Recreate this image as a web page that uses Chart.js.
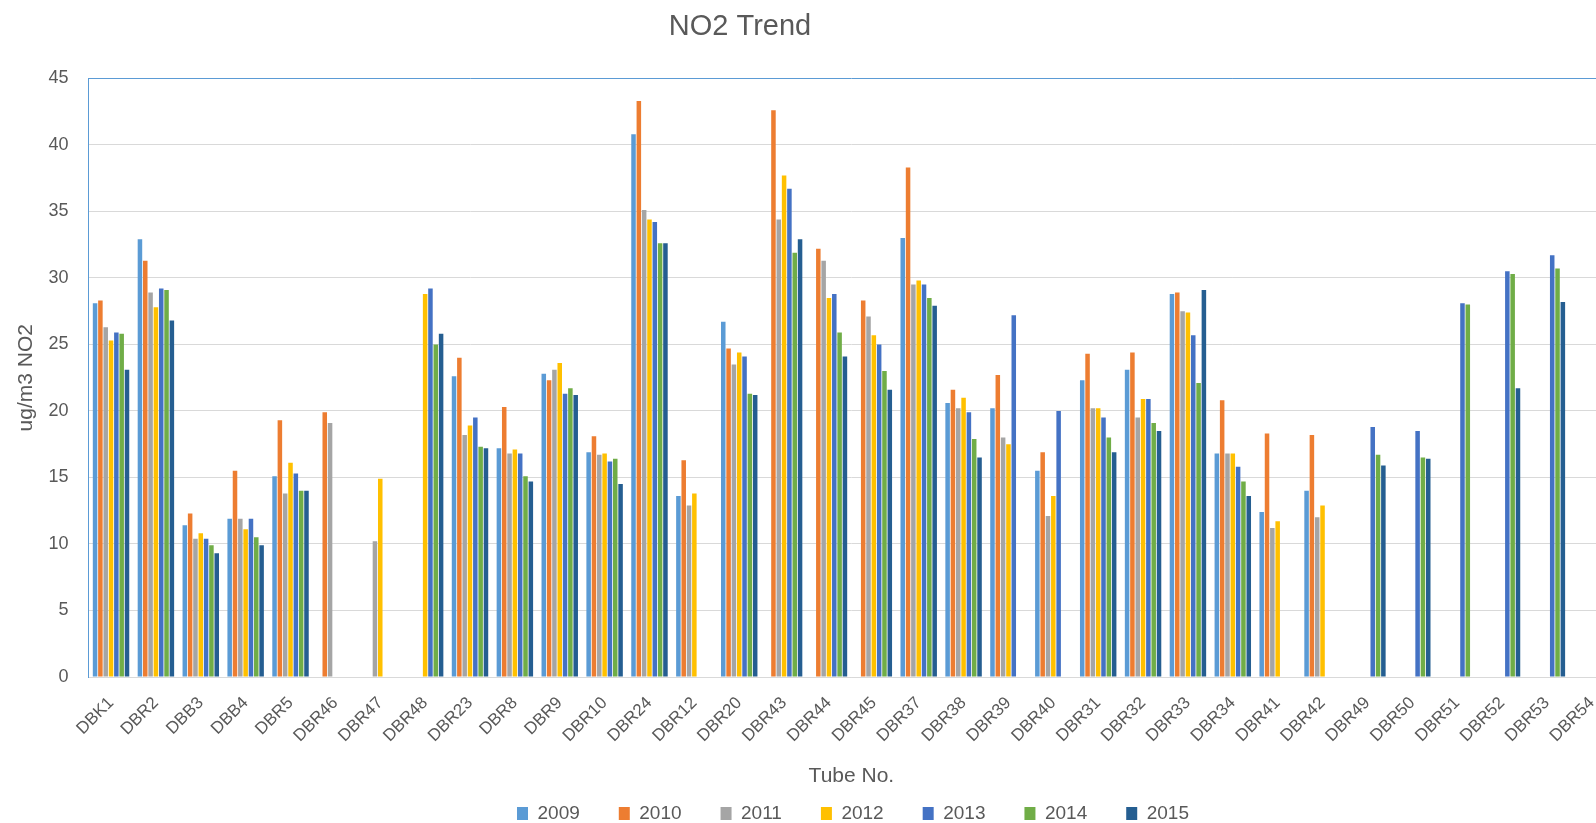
<!DOCTYPE html>
<html>
<head>
<meta charset="utf-8">
<title>NO2 Trend</title>
<script src="https://cdn.jsdelivr.net/npm/chart.js@4.4.0/dist/chart.umd.min.js"></script>
<style>
    html, body { margin: 0; padding: 0; background: #fff; overflow: hidden; }
    #wrap { position: absolute; left: 0; top: 0; }
</style>
</head>
<body>
<div id="wrap"><canvas id="no2Chart" width="1706" height="833"></canvas></div>
<script>
const chartTitle = 'NO2 Trend';
const years = ['2009', '2010', '2011', '2012', '2013', '2014', '2015'];
const tubes = ['DBK1', 'DBR2', 'DBB3', 'DBB4', 'DBR5', 'DBR46', 'DBR47', 'DBR48', 'DBR23', 'DBR8',
    'DBR9', 'DBR10', 'DBR24', 'DBR12', 'DBR20', 'DBR43', 'DBR44', 'DBR45', 'DBR37', 'DBR38',
    'DBR39', 'DBR40', 'DBR31', 'DBR32', 'DBR33', 'DBR34', 'DBR41', 'DBR42', 'DBR49', 'DBR50',
    'DBR51', 'DBR52', 'DBR53', 'DBR54'];

// annual means, ug/m3 (null = no tube that year)
const no2_2009 = [28.1, 32.9, 11.4, 11.9, 15.1, null, null, null, 22.6, 17.2, 22.8, 16.9, 40.8, 13.6, 26.7, null, null, null, 33.0, 20.6, 20.2, 15.5, 22.3, 23.1, 28.8, 16.8, 12.4, 14.0, null, null, null, null, null, null];
const no2_2010 = [28.3, 31.3, 12.3, 15.5, 19.3, 19.9, null, null, 24.0, 20.3, 22.3, 18.1, 43.3, 16.3, 24.7, 42.6, 32.2, 28.3, 38.3, 21.6, 22.7, 16.9, 24.3, 24.4, 28.9, 20.8, 18.3, 18.2, null, null, null, null, null, null];
const no2_2011 = [26.3, 28.9, 10.4, 11.9, 13.8, 19.1, 10.2, null, 18.2, 16.8, 23.1, 16.7, 35.1, 12.9, 23.5, 34.4, 31.3, 27.1, 29.5, 20.2, 18.0, 12.1, 20.2, 19.5, 27.5, 16.8, 11.2, 12.0, null, null, null, null, null, null];
const no2_2012 = [25.3, 27.8, 10.8, 11.1, 16.1, null, 14.9, 28.8, 18.9, 17.1, 23.6, 16.8, 34.4, 13.8, 24.4, 37.7, 28.5, 25.7, 29.8, 21.0, 17.5, 13.6, 20.2, 20.9, 27.4, 16.8, 11.7, 12.9, null, null, null, null, null, null];
const no2_2013 = [25.9, 29.2, 10.4, 11.9, 15.3, null, null, 29.2, 19.5, 16.8, 21.3, 16.2, 34.2, null, 24.1, 36.7, 28.8, 25.0, 29.5, 19.9, 27.2, 20.0, 19.5, 20.9, 25.7, 15.8, null, null, 18.8, 18.5, 28.1, 30.5, 31.7, null];
const no2_2014 = [25.8, 29.1, 9.9, 10.5, 14.0, null, null, 25.0, 17.3, 15.1, 21.7, 16.4, 32.6, null, 21.3, 31.9, 25.9, 23.0, 28.5, 17.9, null, null, 18.0, 19.1, 22.1, 14.7, null, null, 16.7, 16.5, 28.0, 30.3, 30.7, null];
const no2_2015 = [23.1, 26.8, 9.3, 9.9, 14.0, null, null, 25.8, 17.2, 14.7, 21.2, 14.5, 32.6, null, 21.2, 32.9, 24.1, 21.6, 27.9, 16.5, null, null, 16.9, 18.5, 29.1, 13.6, null, null, 15.9, 16.4, null, 21.7, 28.2, null];

const yTicks = [0, 5, 10, 15, 20, 25, 30, 35, 40, 45];

const seriesValues = [no2_2009, no2_2010, no2_2011, no2_2012, no2_2013, no2_2014, no2_2015];
const seriesColors = ['#5B9BD5', '#ED7D31', '#A5A5A5', '#FFC000', '#4472C4', '#70AD47', '#255E91'];

const textColor = '#595959';
Chart.defaults.font.family = '"Liberation Sans", Arial, sans-serif';
Chart.defaults.color = textColor;

// title sits left of centre in the original, so draw it ourselves
const titlePlugin = {
    id: 'plotTitle',
    afterDraw(chart) {
        const ctx = chart.ctx;
        ctx.save();
        ctx.font = '29px "Liberation Sans", Arial, sans-serif';
        ctx.fillStyle = textColor;
        ctx.textAlign = 'center';
        ctx.textBaseline = 'middle';
        ctx.fillText(chartTitle, 740, 27);
        ctx.restore();
    }
};

const ctx = document.getElementById('no2Chart').getContext('2d');

new Chart(ctx, {
    type: 'bar',
    data: {
        labels: tubes,
        datasets: years.map((y, i) => ({
            label: y,
            data: seriesValues[i],
            backgroundColor: seriesColors[i],
            borderWidth: 0,
            categoryPercentage: 0.83,
            barPercentage: 0.85
        }))
    },
    options: {
        responsive: false,
        animation: false,
        devicePixelRatio: 1,
        layout: {
            padding: {top: 78.4, left: 0, right: 0, bottom: 0}
        },
        scales: {
            x: {
                grid: {display: false, drawTicks: false},
                border: {display: true, color: '#d9d9d9', width: 1},
                ticks: {
                    autoSkip: false,
                    minRotation: 45,
                    maxRotation: 45,
                    padding: 16,
                    font: {size: 17}
                },
                title: {
                    display: true,
                    text: 'Tube No.',
                    font: {size: 21},
                    padding: {top: 0, bottom: -24}
                },
                afterFit: function (scale) {
                    scale.height = 88;
                }
            },
            y: {
                min: 0,
                max: 45,
                afterBuildTicks: function (scale) {
                    scale.ticks = yTicks.map(v => ({value: v}));
                },
                ticks: {padding: 20, font: {size: 18}},
                grid: {
                    drawTicks: false,
                    color: function (c) {
                        return c.tick && c.tick.value === 45 ? '#5B9BD5' : '#d9d9d9';
                    }
                },
                border: {display: true, color: '#5B9BD5', width: 1},
                title: {
                    display: true,
                    text: 'ug/m3 NO2',
                    font: {size: 21},
                    padding: {top: 14, bottom: 0}
                },
                afterFit: function (scale) {
                    scale.width = 88.6;
                }
            },
            yRight: {
                type: 'linear',
                position: 'right',
                grid: {display: false, drawTicks: false},
                border: {display: false},
                ticks: {display: false},
                afterFit: function (scale) {
                    scale.width = 91.8;
                }
            }
        },
        plugins: {
            legend: {
                position: 'bottom',
                labels: {
                    boxWidth: 11,
                    boxHeight: 13,
                    padding: 39,
                    font: {size: 19}
                }
            },
            tooltip: {enabled: false}
        }
    },
    plugins: [titlePlugin]
});
</script>
</body>
</html>
